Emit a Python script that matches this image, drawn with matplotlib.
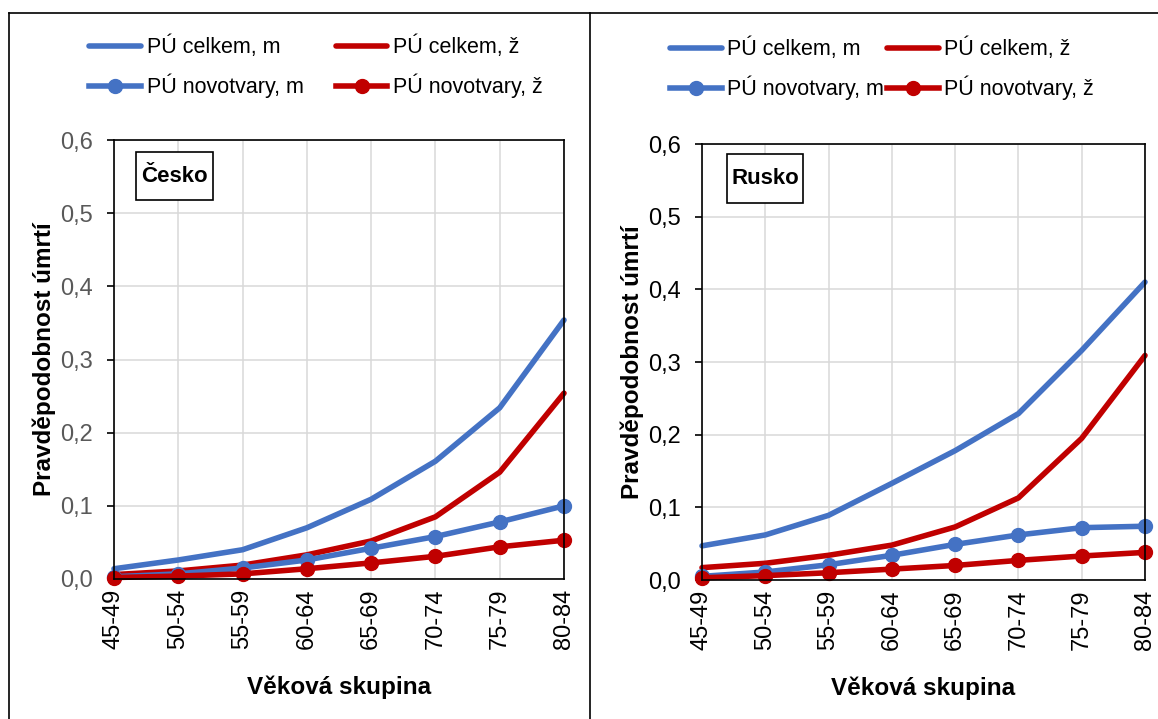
import matplotlib.pyplot as plt
from matplotlib.lines import Line2D
from matplotlib.patches import Rectangle
import numpy as np

plt.rcParams['font.family'] = ['Liberation Sans', 'DejaVu Sans']

# age groups
skupiny = ['45-49', '50-54', '55-59', '60-64', '65-69', '70-74', '75-79', '80-84']

# Cesko
cz_celkem_m = [0.014, 0.026, 0.040, 0.070, 0.109, 0.161, 0.234, 0.354]
cz_celkem_z = [0.006, 0.011, 0.019, 0.033, 0.052, 0.085, 0.146, 0.254]
cz_novo_m = [0.003, 0.007, 0.015, 0.026, 0.042, 0.058, 0.078, 0.100]
cz_novo_z = [0.002, 0.004, 0.007, 0.014, 0.022, 0.031, 0.044, 0.053]

# Rusko
ru_celkem_m = [0.047, 0.062, 0.089, 0.133, 0.178, 0.229, 0.316, 0.410]
ru_celkem_z = [0.017, 0.023, 0.034, 0.048, 0.073, 0.113, 0.195, 0.309]
ru_novo_m = [0.005, 0.011, 0.021, 0.034, 0.049, 0.062, 0.072, 0.074]
ru_novo_z = [0.003, 0.006, 0.010, 0.015, 0.020, 0.027, 0.033, 0.038]

y_ticks = [0.0, 0.1, 0.2, 0.3, 0.4, 0.5, 0.6]
y_labels = ['0,0', '0,1', '0,2', '0,3', '0,4', '0,5', '0,6']

nazvy = ['PÚ celkem, m', 'PÚ celkem, ž', 'PÚ novotvary, m', 'PÚ novotvary, ž']

BLUE = '#4472C4'
RED = '#C00000'

fig = plt.figure(figsize=(11.58, 7.19), dpi=100)

W, H = 1158.0, 719.0


def px_axes(left, top, right, bottom):
    return fig.add_axes([left / W, 1 - bottom / H, (right - left) / W, (bottom - top) / H])


def draw_panel(ax, cm, cz, nm, nz, tick_color, name, box, leg_xy, colspace):
    x = np.arange(len(skupiny))
    h1, = ax.plot(x, cm, color=BLUE, lw=4, solid_capstyle='round', clip_on=False)
    h2, = ax.plot(x, cz, color=RED, lw=4, solid_capstyle='round', clip_on=False)
    h3, = ax.plot(x, nm, color=BLUE, lw=4, marker='o', ms=10, clip_on=False)
    h4, = ax.plot(x, nz, color=RED, lw=4, marker='o', ms=10, clip_on=False)

    ax.set_xlim(0, len(skupiny) - 1)
    ax.set_ylim(0, 0.6)
    ax.set_xticks(x)
    ax.set_xticklabels(skupiny, rotation=90, fontsize=17)
    ax.set_yticks(y_ticks)
    ax.set_yticklabels(y_labels, fontsize=17, color=tick_color)
    ax.tick_params(axis='x', length=0, pad=7)
    ax.tick_params(axis='y', length=5, width=1.2, direction='out', pad=10)
    ax.grid(True, color='#D9D9D9', lw=1.1)
    ax.set_axisbelow(True)
    for s in ax.spines.values():
        s.set_color('black')
        s.set_linewidth(1.2)

    ax.set_xlabel('Věková skupina', fontsize=17.5, fontweight='bold', labelpad=19)
    ax.set_ylabel('Pravděpodobnost úmrtí', fontsize=17.5, fontweight='bold', labelpad=3)

    # label box for the country
    x0, y0, x1, y1 = box
    fig.add_artist(Rectangle((x0 / W, 1 - y1 / H), (x1 - x0) / W, (y1 - y0) / H,
                             transform=fig.transFigure, fc='white', ec='black', lw=1.2))
    fig.text((x0 + x1) / 2 / W, 1 - (y0 + y1) / 2 / H, name, fontsize=16,
             fontweight='bold', ha='center', va='center')

    # row-wise order: celkem m | celkem z / novotvary m | novotvary z
    fig.legend([h1, h3, h2, h4], [nazvy[0], nazvy[2], nazvy[1], nazvy[3]],
               loc='center', bbox_to_anchor=(leg_xy[0] / W, 1 - leg_xy[1] / H),
               ncol=2, frameon=False, fontsize=15.5, handlelength=2.4, handletextpad=0.25,
               columnspacing=colspace, labelspacing=0.7)


ax1 = px_axes(114, 140, 564, 579)
draw_panel(ax1, cz_celkem_m, cz_celkem_z, cz_novo_m, cz_novo_z, '#595959', 'Česko',
           (136, 152, 213, 200), (316, 67), 1.5)

ax2 = px_axes(702, 144, 1145, 580)
draw_panel(ax2, ru_celkem_m, ru_celkem_z, ru_novo_m, ru_novo_z, 'black', 'Rusko',
           (727, 154, 803, 203), (882, 69), 0.15)

# chart borders
fig.add_artist(Line2D([9 / W, 1], [1 - 13 / H, 1 - 13 / H], color='black', lw=1.2))
fig.add_artist(Line2D([9 / W, 9 / W], [0, 1 - 13 / H], color='black', lw=1.2))
fig.add_artist(Line2D([590 / W, 590 / W], [0, 1 - 13 / H], color='black', lw=1.2))

fig.savefig('out.png', dpi=100)
